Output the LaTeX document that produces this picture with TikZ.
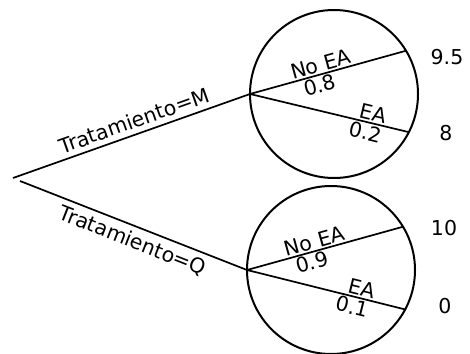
\documentclass[tikz,border=0pt]{standalone}
\usepackage{fontspec}
\setmainfont{DejaVu Sans}
\begin{document}
\begin{tikzpicture}[x=1pt, y=-1pt, line width=1.7pt,
    chance/.style={draw, circle, line width=2pt, minimum size=168pt, inner sep=0pt, outer sep=0pt},
    lbl/.style={sloped, inner sep=1.5pt, font=\fontsize{20.5}{23}\selectfont},
    branchlbl/.style={lbl, inner sep=5pt},
    payoff/.style={font=\fontsize{20.5}{23}\selectfont}]
    \useasboundingbox (0,0) rectangle (470,353);

    \coordinate (rootm) at (13,178);
    \coordinate (rootq) at (20,181);
    \node[chance] (m) at (334,94) {};
    \node[chance] (q) at (331,270) {};

    \node[payoff] (m1) at (447,57) {9.5};
    \node[payoff] (m2) at (446,133) {8};
    \node[payoff] (q1) at (444,228) {10};
    \node[payoff] (q2) at (445,306) {0};

    \draw (rootm) -- node[branchlbl, above, pos=0.53] {Tratamiento=M} (m.west);
    \draw (rootq) -- node[branchlbl, below, pos=0.52] {Tratamiento=Q} (q.west);

    \draw (m.west) -- node[lbl, above, pos=0.47] {No EA} node[lbl, below, pos=0.43] {0.8} (m.31);
    \draw (m.west) -- node[lbl, above, pos=0.76] {EA} node[lbl, below, pos=0.74] {0.2} (m.-27);
    \draw (q.west) -- node[lbl, above, pos=0.45] {No EA} node[lbl, below, pos=0.40] {0.9} (q.31);
    \draw (q.west) -- node[lbl, above, pos=0.71] {EA} node[lbl, below, pos=0.68] {0.1} (q.-28);
  \end{tikzpicture}
\end{document}
